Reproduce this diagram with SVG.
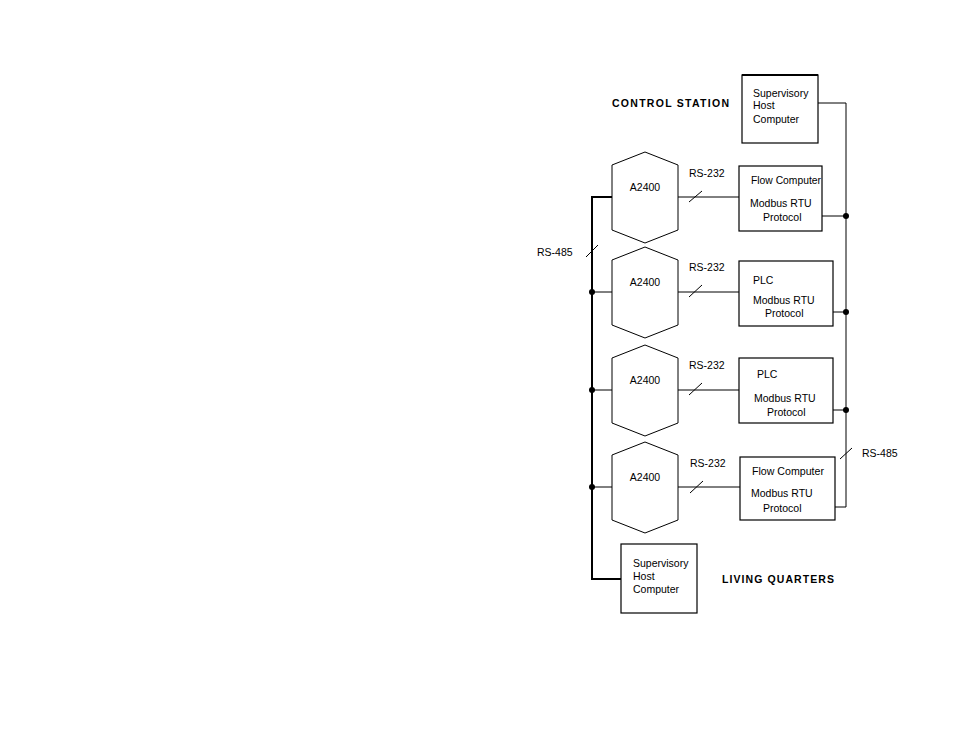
<svg xmlns="http://www.w3.org/2000/svg" width="954" height="737" viewBox="0 0 954 737">
<style>
  .t { font-family: "Liberation Sans", Arial, sans-serif; font-size: 10.5px; fill: #000; }
  .b { font-family: "Liberation Sans", Arial, sans-serif; font-size: 10.5px; font-weight: bold; fill: #000; }
  .box { fill: #fff; stroke: #000; stroke-width: 1.2; }
  .hex { fill: #fff; stroke: #000; stroke-width: 1; }
  .ln { fill: none; stroke: #000; stroke-width: 1; }
  .bus { fill: none; stroke: #000; stroke-width: 2; }
  .dot { fill: #000; }
</style>
<rect width="954" height="737" fill="#fff"/>

<g id="connectors">
  <path class="bus" d="M612,197 H592 V579 H621"/>
  <line class="ln" x1="592" y1="292" x2="612" y2="292"/>
  <line class="ln" x1="592" y1="390" x2="612" y2="390"/>
  <line class="ln" x1="592" y1="487" x2="612" y2="487"/>
  <circle class="dot" cx="592" cy="292" r="3"/>
  <circle class="dot" cx="592" cy="390" r="3"/>
  <circle class="dot" cx="592" cy="487" r="3"/>
  <line class="ln" x1="586" y1="257" x2="598" y2="245"/>
  <text class="t" x="537" y="256">RS-485</text>

  <line class="ln" x1="678" y1="197" x2="739" y2="197"/>
  <line class="ln" x1="689" y1="202" x2="702" y2="191"/>
  <text class="t" x="689" y="177">RS-232</text>
  <line class="ln" x1="678" y1="292" x2="739" y2="292"/>
  <line class="ln" x1="689" y1="297" x2="702" y2="285"/>
  <text class="t" x="689" y="271">RS-232</text>
  <line class="ln" x1="678" y1="390" x2="739" y2="390"/>
  <line class="ln" x1="689" y1="395" x2="702" y2="383"/>
  <text class="t" x="689" y="369">RS-232</text>
  <line class="ln" x1="678" y1="487" x2="740" y2="487"/>
  <line class="ln" x1="690" y1="493" x2="703" y2="481"/>
  <text class="t" x="690" y="467">RS-232</text>

  <path class="ln" d="M818,103 H846 V507 H835"/>
  <line class="ln" x1="822" y1="216" x2="846" y2="216"/>
  <line class="ln" x1="833" y1="312" x2="846" y2="312"/>
  <line class="ln" x1="833" y1="410" x2="846" y2="410"/>
  <circle class="dot" cx="846" cy="216" r="3"/>
  <circle class="dot" cx="846" cy="312" r="3"/>
  <circle class="dot" cx="846" cy="410" r="3"/>
  <line class="ln" x1="840" y1="459" x2="852" y2="448"/>
  <text class="t" x="862" y="457">RS-485</text>
</g>

<text class="b" x="612" y="107" textLength="117" lengthAdjust="spacing">CONTROL STATION</text>
<text class="b" x="722" y="583" textLength="112" lengthAdjust="spacing">LIVING QUARTERS</text>

<g id="host-top">
  <rect class="box" x="742" y="75" width="76" height="68"/>
  <line x1="742" y1="75" x2="818" y2="75" stroke="#000" stroke-width="2"/>
  <text class="t" x="753" y="97">Supervisory</text>
  <text class="t" x="753" y="109">Host</text>
  <text class="t" x="753" y="123">Computer</text>
</g>

<g id="hex1">
  <polygon class="hex" points="612,165 645,152 678,165 678,230 645,243 612,230"/>
  <text class="t" x="645" y="191" text-anchor="middle">A2400</text>
</g>
<g id="hex2">
  <polygon class="hex" points="612,260 645,247 678,260 678,325 645,338 612,325"/>
  <text class="t" x="645" y="286" text-anchor="middle">A2400</text>
</g>
<g id="hex3">
  <polygon class="hex" points="612,358 645,345 678,358 678,423 645,436 612,423"/>
  <text class="t" x="645" y="384" text-anchor="middle">A2400</text>
</g>
<g id="hex4">
  <polygon class="hex" points="612,455 645,442 678,455 678,520 645,533 612,520"/>
  <text class="t" x="645" y="481" text-anchor="middle">A2400</text>
</g>

<g id="flow1">
  <rect class="box" x="739" y="166" width="83" height="65"/>
  <text class="t" x="751" y="184" textLength="70" lengthAdjust="spacingAndGlyphs">Flow Computer</text>
  <text class="t" x="750" y="207">Modbus RTU</text>
  <text class="t" x="763" y="221">Protocol</text>
</g>
<g id="plc1">
  <rect class="box" x="739" y="261" width="94" height="65"/>
  <text class="t" x="753" y="284">PLC</text>
  <text class="t" x="753" y="304">Modbus RTU</text>
  <text class="t" x="765" y="317">Protocol</text>
</g>
<g id="plc2">
  <rect class="box" x="739" y="358" width="94" height="65"/>
  <text class="t" x="757" y="378">PLC</text>
  <text class="t" x="754" y="402">Modbus RTU</text>
  <text class="t" x="767" y="416">Protocol</text>
</g>
<g id="flow2">
  <rect class="box" x="740" y="457" width="95" height="63"/>
  <text class="t" x="752" y="475" textLength="72" lengthAdjust="spacingAndGlyphs">Flow Computer</text>
  <text class="t" x="751" y="497">Modbus RTU</text>
  <text class="t" x="763" y="512">Protocol</text>
</g>

<g id="host-bottom">
  <rect class="box" x="621" y="544" width="76" height="69"/>
  <text class="t" x="633" y="567">Supervisory</text>
  <text class="t" x="633" y="580">Host</text>
  <text class="t" x="633" y="593">Computer</text>
</g>
</svg>
